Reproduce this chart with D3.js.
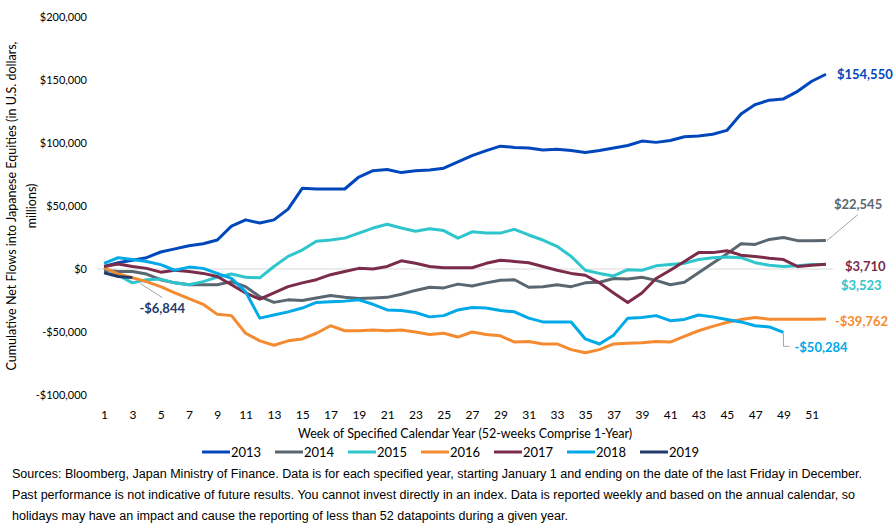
<!DOCTYPE html>
<html>
<head>
<meta charset="utf-8">
<script src="https://cdn.jsdelivr.net/npm/d3@7"></script>
<style>
  body { margin: 0; background: #fff; }
  svg { display: block; font-family: Lato, "Open Sans", sans-serif; }
</style>
</head>
<body>
<script>
// weekly cumulative net flows, $ millions
const years = ["2013", "2014", "2015", "2016", "2017", "2018", "2019"];
const flows2013 = [2000, 5000, 7000, 9000, 13500, 16000, 18500, 20000, 23000, 34000, 39000, 36500, 39000, 47500, 64000, 63500, 63500, 63500, 73000, 78000, 79000, 76500, 78000, 78500, 80000, 85000, 90000, 94000, 97500, 96500, 96000, 94500, 95000, 94000, 92500, 94000, 96000, 98000, 101500, 100500, 102000, 105000, 105500, 107000, 110000, 123000, 130500, 134000, 135000, 141000, 149000, 154550];
const flows2014 = [-1000, -2000, -2000, -4000, -8500, -11000, -12500, -12500, -12500, -10000, -14000, -22000, -26500, -24500, -25000, -23000, -21000, -22500, -23500, -23000, -22500, -20000, -17000, -14500, -15000, -12000, -13500, -11000, -9000, -8500, -14500, -14000, -12500, -14000, -11000, -10500, -7500, -8000, -6500, -9000, -12500, -10500, -3000, 4500, 12000, 20000, 19500, 23500, 25000, 22500, 22500, 22545];
const flows2015 = [1000, -5000, -11000, -8500, -8000, -11000, -12500, -10000, -6500, -4000, -6500, -7000, 2000, 10000, 15000, 22000, 23000, 24500, 28500, 32500, 35500, 32500, 30000, 32000, 30500, 24500, 29500, 28500, 28500, 31500, 27000, 23000, 18000, 10000, -1000, -3500, -5500, -500, -1000, 2500, 3500, 4500, 7500, 9000, 9500, 9000, 5000, 3000, 2000, 2500, 3500, 3523];
const flows2016 = [1000, -4000, -7000, -10000, -14000, -19000, -23500, -28000, -36000, -37000, -51000, -57000, -60500, -57000, -55500, -51000, -45000, -49000, -49000, -48500, -49000, -48500, -50000, -52000, -51000, -54000, -50000, -52000, -53000, -58000, -57500, -59500, -59500, -64000, -66500, -64000, -59500, -59000, -58500, -57500, -58000, -53500, -49000, -45500, -42500, -40000, -38500, -39800, -39800, -39800, -39800, -39762];
const flows2017 = [2000, 4000, 2000, 500, -2500, -1000, -2000, -3500, -6000, -12500, -19000, -24000, -19000, -14000, -11000, -8500, -4500, -2000, 500, 0, 2000, 6500, 4500, 2000, 1000, 1000, 1000, 4500, 7000, 6000, 5000, 2000, -1000, -3500, -5000, -11000, -19000, -26500, -19000, -7500, -1000, 6000, 13000, 13000, 14500, 11000, 10000, 8500, 7500, 2000, 3000, 3710];
const flows2018 = [4500, 9000, 7500, 6000, 3500, -1000, 1500, 500, -3500, -7500, -18000, -39000, -36500, -34000, -31000, -26500, -26000, -25500, -24500, -28000, -32500, -33000, -34500, -38000, -37000, -32500, -30500, -31000, -33000, -34000, -39000, -42000, -42000, -42000, -55500, -59500, -52500, -39000, -38500, -37000, -41000, -40000, -36500, -38000, -40000, -42000, -45000, -46000, -50284];
const flows2019 = [-3000, -6000, -6844];
const seriesValues = [flows2013, flows2014, flows2015, flows2016, flows2017, flows2018, flows2019];
const colors = ["#0047bb", "#5b6770", "#2ec5cc", "#f58b30", "#7b2c4b", "#00a9e8", "#22396b"];

const weekTicks = d3.range(1, 52, 2);
const yTicks = [-100000, -50000, 0, 50000, 100000, 150000, 200000];

// end-of-line callouts: which series, label offset from last point, optional leader
const callouts = [
  {s: 0, dx: 11, dy: 0},
  {s: 1, dx: 8, dy: -36, leader: [[1, 0], [32, -26]]},
  {s: 4, dx: 19, dy: 2},
  {s: 2, dx: 15, dy: 21},
  {s: 3, dx: 9, dy: 2},
  {s: 5, dx: 11, dy: 15, leader: [[0, 1], [0, 14], [6, 14]]},
  {s: 6, dx: 7, dy: 31, leader: [[8, 6], [30, 20]]}
];

const footnotes = [
  "Sources: Bloomberg, Japan Ministry of Finance. Data is for each specified year, starting January 1 and ending on the date of the last Friday in December.",
  "Past performance is not indicative of future results. You cannot invest directly in an index. Data is reported weekly and based on the annual calendar, so",
  "holidays may have an impact and cause the reporting of less than 52 datapoints during a given year."
];
const footWidths = [850, 843, 556];

const W = 894, H = 531;
const svg = d3.select("body").append("svg").attr("width", W).attr("height", H);

const x = d3.scaleLinear().domain([0.5, 52.5]).range([97, 833]);
const y = d3.scaleLinear().domain([-100000, 200000]).range([395, 17]);

// zero line
svg.append("line")
  .attr("x1", x(0.5)).attr("x2", x(52.5))
  .attr("y1", y(0)).attr("y2", y(0))
  .attr("stroke", "#d9d9d9").attr("stroke-width", 1);

// y axis (labels only)
const yAxis = svg.append("g")
  .attr("transform", "translate(87,0)")
  .call(d3.axisLeft(y).tickValues(yTicks).tickSize(0).tickPadding(0)
    .tickFormat(d => (d < 0 ? "-$" : "$") + d3.format(",")(Math.abs(d))));
yAxis.select(".domain").remove();
yAxis.selectAll("text").attr("font-size", 11).attr("fill", "#000")
  .attr("font-family", "Lato, sans-serif");

// x axis (labels only)
const xAxis = svg.append("g")
  .attr("transform", "translate(0,410)")
  .call(d3.axisBottom(x).tickValues(weekTicks).tickSize(0).tickPadding(0).tickFormat(d3.format("d")));
xAxis.select(".domain").remove();
xAxis.selectAll("text").attr("font-size", 12).attr("fill", "#000")
  .attr("font-family", "Lato, sans-serif");

// axis titles
const yTitle = svg.append("text")
  .attr("transform", "translate(0,206) rotate(-90)")
  .attr("text-anchor", "middle").attr("font-size", 12.5).attr("fill", "#000");
yTitle.append("tspan").attr("x", 0).attr("y", 16)
  .text("Cumulative Net Flows into Japanese Equities (in U.S. dollars,");
yTitle.append("tspan").attr("x", 0).attr("y", 36).text("millions)");

svg.append("text")
  .attr("x", 465).attr("y", 438)
  .attr("text-anchor", "middle").attr("font-size", 12.5).attr("fill", "#000")
  .text("Week of Specified Calendar Year (52-weeks Comprise 1-Year)");

// lines
const line = d3.line().x((d, i) => x(i + 1)).y(d => y(d));
svg.append("g").selectAll("path")
  .data(seriesValues)
  .join("path")
  .attr("d", d => line(d))
  .attr("fill", "none")
  .attr("stroke", (d, i) => colors[i])
  .attr("stroke-width", 3)
  .attr("stroke-linejoin", "round");

// callouts
const fmt = v => (v < 0 ? "-$" : "$") + d3.format(",")(Math.abs(v));
callouts.forEach(c => {
  const vals = seriesValues[c.s];
  const px = x(vals.length), py = y(vals[vals.length - 1]);
  if (c.leader) {
    svg.append("path")
      .attr("d", d3.line()(c.leader.map(p => [px + p[0], py + p[1]])))
      .attr("fill", "none").attr("stroke", "#a6a6a6").attr("stroke-width", 1);
  }
  svg.append("text")
    .attr("x", px + c.dx).attr("y", py + c.dy)
    .attr("dy", "0.35em")
    .attr("font-size", 13).attr("font-weight", "bold")
    .attr("fill", colors[c.s])
    .text(fmt(vals[vals.length - 1]));
});

// legend
const legend = svg.append("g").attr("transform", "translate(202,452)");
years.forEach((yr, i) => {
  const g = legend.append("g").attr("transform", `translate(${i * 73},0)`);
  g.append("line").attr("x1", 0).attr("x2", 28).attr("y1", 0).attr("y2", 0)
    .attr("stroke", colors[i]).attr("stroke-width", 3);
  g.append("text").attr("x", 29).attr("y", 0).attr("dy", "0.35em")
    .attr("font-size", 13).attr("fill", "#000").text(yr);
});

// footnote
footnotes.forEach((t, i) => {
  svg.append("text")
    .attr("x", 12).attr("y", 478 + i * 21)
    .attr("font-family", "'Liberation Sans Narrow', 'Arial Narrow', 'Liberation Sans', sans-serif")
    .attr("font-size", 12).attr("fill", "#000")
    .attr("textLength", footWidths[i]).attr("lengthAdjust", "spacingAndGlyphs")
    .text(t);
});
</script>
</body>
</html>
